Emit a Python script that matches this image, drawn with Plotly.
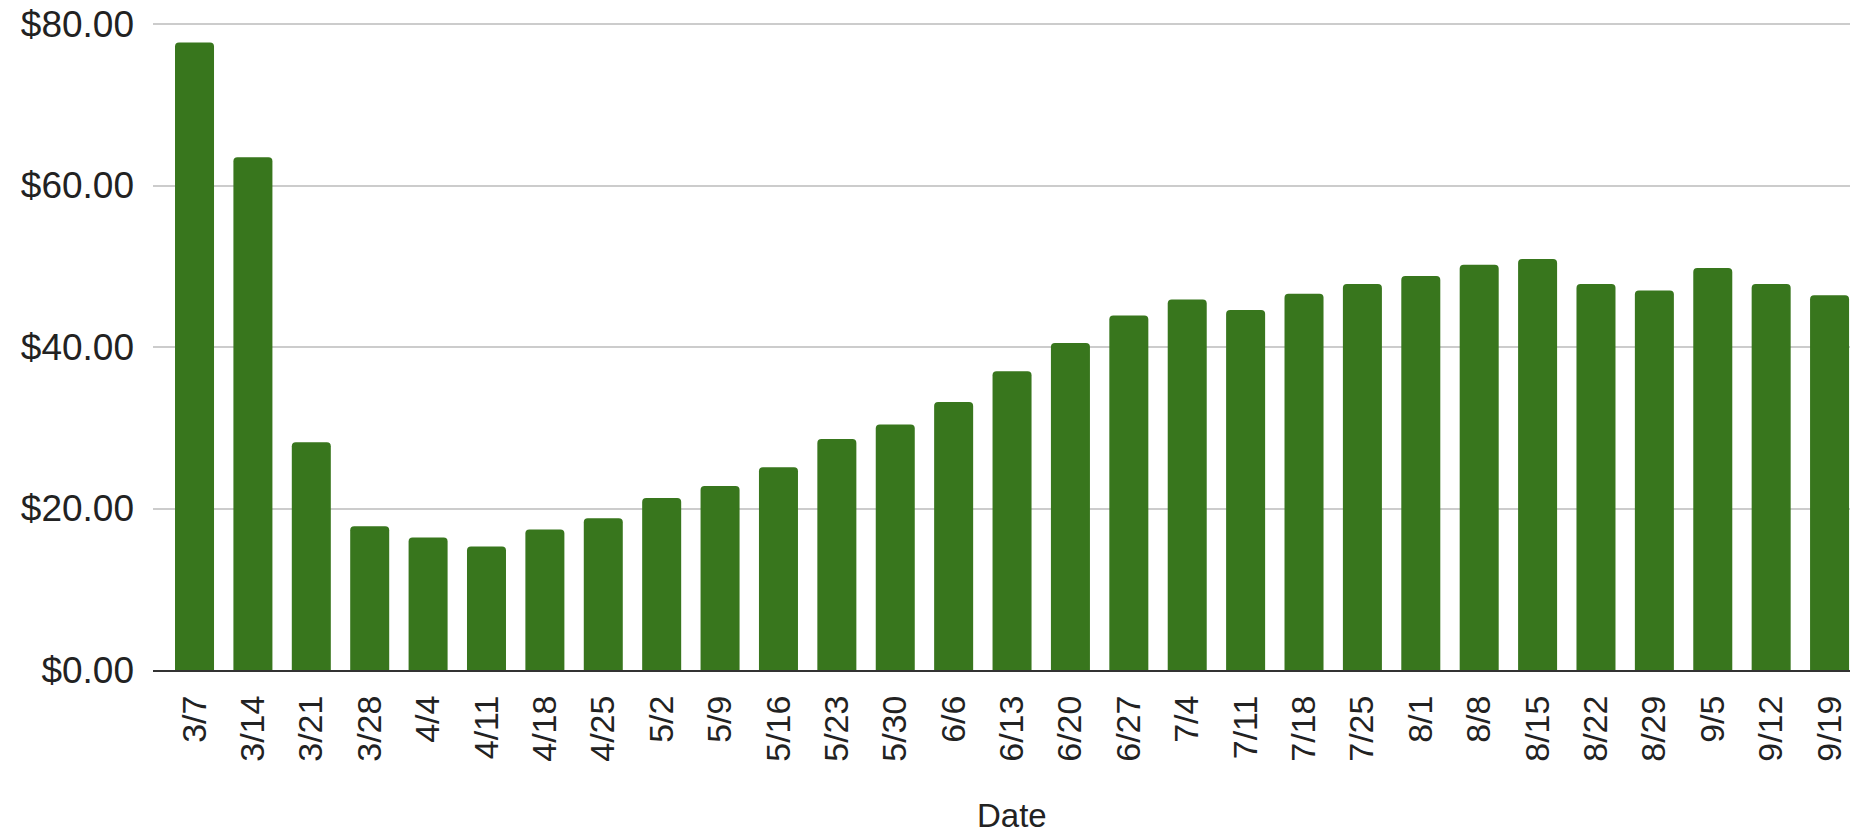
import plotly.graph_objects as go

dates = ["3/7", "3/14", "3/21", "3/28", "4/4", "4/11", "4/18", "4/25", "5/2", "5/9",
         "5/16", "5/23", "5/30", "6/6", "6/13", "6/20", "6/27", "7/4", "7/11", "7/18",
         "7/25", "8/1", "8/8", "8/15", "8/22", "8/29", "9/5", "9/12", "9/19"]
prices = [77.7, 63.5, 28.2, 17.8, 16.4, 15.3, 17.4, 18.8, 21.3, 22.8,
          25.1, 28.6, 30.4, 33.2, 37.0, 40.5, 43.9, 45.9, 44.6, 46.6,
          47.8, 48.8, 50.2, 50.9, 47.8, 47.0, 49.8, 47.8, 46.4]
y_ticks = [0, 20, 40, 60, 80]
y_tick_labels = ["$0.00", "$20.00", "$40.00", "$60.00", "$80.00"]

FONT = "Liberation Sans, Arial, sans-serif"

fig = go.Figure(
    go.Bar(
        x=dates,
        y=prices,
        marker=dict(color="#38761d", cornerradius=4, line=dict(width=0)),
        hovertemplate="%{x}: $%{y:.2f}<extra></extra>",
    )
)

fig.update_layout(
    width=1850,
    height=838,
    margin=dict(l=153, r=0, t=20, b=168),
    plot_bgcolor="white",
    paper_bgcolor="white",
    bargap=0.332,
    showlegend=False,
    font=dict(family=FONT, size=34, color="#222222"),
    annotations=[
        dict(
            text="Date",
            xref="paper",
            yref="paper",
            x=0.506,
            y=-0.2535,
            xanchor="center",
            yanchor="bottom",
            showarrow=False,
            borderpad=0,
            font=dict(family=FONT, size=33, color="#222222"),
        )
    ],
)

fig.update_xaxes(
    type="category",
    range=[-0.711, 28.35],
    tickangle=-90,
    showgrid=False,
    showline=True,
    linecolor="#333333",
    linewidth=2,
    ticks="",
    ticklabelstandoff=10,
    tickfont=dict(family=FONT, size=34, color="#222222"),
    automargin=False,
)

fig.update_yaxes(
    range=[0, 80.5],
    tickvals=y_ticks,
    ticktext=y_tick_labels,
    showgrid=True,
    gridcolor="#cccccc",
    gridwidth=1.5,
    zeroline=False,
    showline=False,
    ticks="",
    ticklabelstandoff=18,
    tickfont=dict(family=FONT, size=37, color="#222222"),
    automargin=False,
)

fig.write_html(
    "out.html",
    config={"displayModeBar": False},
    post_script="document.body.style.margin='0';document.body.style.overflow='hidden';",
)
